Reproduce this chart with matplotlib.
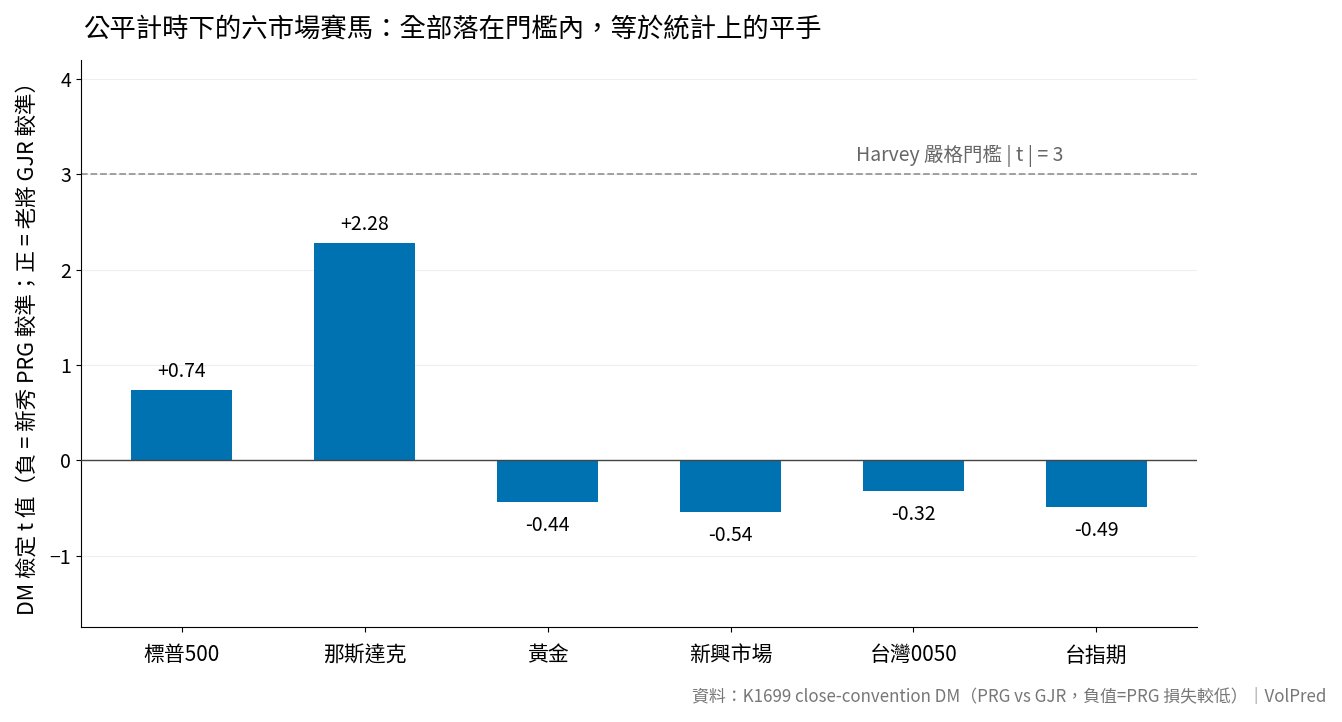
import matplotlib.pyplot as plt

plt.rcParams['font.family'] = ['Noto Sans CJK TC', 'DejaVu Sans']

markets = ['標普500', '那斯達克', '黃金', '新興市場', '台灣0050', '台指期']
dm_t = [0.74, 2.28, -0.44, -0.54, -0.32, -0.49]
harvey = 3

fig = plt.figure(figsize=(13.42, 7.22), dpi=100)
ax = fig.add_axes([0.0604, 0.1316, 0.8316, 0.7854])

x = range(len(markets))
ax.bar(x, dm_t, width=0.55, color='#0072B2', zorder=3)
for i, v in zip(x, dm_t):
    off = 0.08 if v >= 0 else -0.14
    ax.text(i, v + off, f'{v:+.2f}' if v >= 0 else f'{v:.2f}',
            ha='center', va='bottom' if v >= 0 else 'top', fontsize=14)

ax.axhline(0, color='#444444', lw=1, zorder=4)
ax.axhline(harvey, color='#999999', lw=1.3, ls='--', zorder=2)
ax.text(4.82, harvey + 0.08, 'Harvey 嚴格門檻 | t | = 3', ha='right', va='bottom',
        fontsize=14, color='#666666')

ax.set_xlim(-0.55, 5.55)
ax.set_ylim(-1.75, 4.2)
ax.set_yticks([-1, 0, 1, 2, 3, 4])
ax.set_xticks(list(x))
ax.set_xticklabels(markets, fontsize=15)
ax.tick_params(axis='x', pad=9)
ax.tick_params(axis='y', labelsize=14)
ax.grid(axis='y', color='#eeeeee', lw=0.8, zorder=0)
ax.set_axisbelow(True)
for s in ['top', 'right']:
    ax.spines[s].set_visible(False)
ax.set_ylabel('DM 檢定 t 值（負 = 新秀 PRG 較準；正 = 老將 GJR 較準）', fontsize=15.5, labelpad=8)

fig.text(0.062, 0.958, '公平計時下的六市場賽馬：全部落在門檻內，等於統計上的平手',
         fontsize=19, ha='left', va='center')
fig.text(0.988, 0.034, '資料：K1699 close-convention DM（PRG vs GJR，負值=PRG 損失較低）｜VolPred',
         fontsize=12.2, color='#777777', ha='right', va='center')

fig.savefig('out.png', dpi=100)
